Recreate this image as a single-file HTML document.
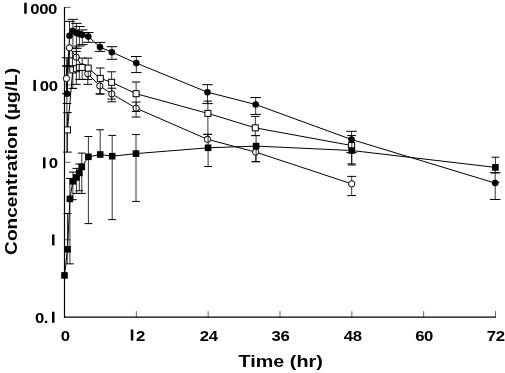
<!DOCTYPE html>
<html><head><meta charset="utf-8"><title>Concentration-time profile</title>
<style>
html,body{margin:0;padding:0;background:#fff;}
svg{display:block;will-change:transform;}
text{font-family:"Liberation Sans",sans-serif;font-weight:bold;font-size:15.5px;fill:#000;}
text.ttl{font-size:16px;}
</style></head><body>
<svg width="505" height="373" viewBox="0 0 505 373">
<rect width="505" height="373" fill="#fff"/>
<line x1="64.50" y1="7.40" x2="70.50" y2="7.40" stroke="#222" stroke-width="0.7" />
<line x1="64.50" y1="84.85" x2="70.50" y2="84.85" stroke="#222" stroke-width="0.7" />
<line x1="64.50" y1="162.30" x2="70.50" y2="162.30" stroke="#222" stroke-width="0.7" />
<line x1="64.50" y1="239.75" x2="70.50" y2="239.75" stroke="#222" stroke-width="0.7" />
<line x1="136.33" y1="317.20" x2="136.33" y2="311.20" stroke="#222" stroke-width="0.7" />
<line x1="208.17" y1="317.20" x2="208.17" y2="311.20" stroke="#222" stroke-width="0.7" />
<line x1="280.00" y1="317.20" x2="280.00" y2="311.20" stroke="#222" stroke-width="0.7" />
<line x1="351.83" y1="317.20" x2="351.83" y2="311.20" stroke="#222" stroke-width="0.7" />
<line x1="423.67" y1="317.20" x2="423.67" y2="311.20" stroke="#222" stroke-width="0.7" />
<line x1="495.50" y1="317.20" x2="495.50" y2="311.20" stroke="#222" stroke-width="0.7" />
<line x1="64.50" y1="6.90" x2="64.50" y2="317.80" stroke="#000" stroke-width="1.2" />
<line x1="63.90" y1="317.20" x2="495.80" y2="317.20" stroke="#000" stroke-width="1.2" />
<polyline points="67.10,93.70 69.50,35.70 72.90,30.80 76.40,33.00 79.40,34.00 82.30,34.80 88.30,36.60 100.00,47.10 111.90,52.20 136.30,63.10 207.50,92.20 255.70,104.50 351.55,139.50 495.20,183.10" fill="none" stroke="#000" stroke-width="1"/>
<line x1="67.10" y1="93.70" x2="67.10" y2="57.80" stroke="#000" stroke-width="0.8" />
<line x1="61.85" y1="57.80" x2="72.35" y2="57.80" stroke="#000" stroke-width="1" />
<line x1="69.50" y1="35.70" x2="69.50" y2="21.40" stroke="#000" stroke-width="0.8" />
<line x1="64.25" y1="21.40" x2="74.75" y2="21.40" stroke="#000" stroke-width="1" />
<line x1="72.90" y1="30.80" x2="72.90" y2="19.35" stroke="#000" stroke-width="0.8" />
<line x1="67.65" y1="19.35" x2="78.15" y2="19.35" stroke="#000" stroke-width="1" />
<line x1="72.90" y1="30.80" x2="72.90" y2="48.30" stroke="#000" stroke-width="0.8" />
<line x1="67.65" y1="48.30" x2="78.15" y2="48.30" stroke="#000" stroke-width="1" />
<line x1="76.40" y1="33.00" x2="76.40" y2="23.40" stroke="#000" stroke-width="0.8" />
<line x1="71.15" y1="23.40" x2="81.65" y2="23.40" stroke="#000" stroke-width="1" />
<line x1="76.40" y1="33.00" x2="76.40" y2="48.30" stroke="#000" stroke-width="0.8" />
<line x1="71.15" y1="48.30" x2="81.65" y2="48.30" stroke="#000" stroke-width="1" />
<line x1="79.40" y1="34.00" x2="79.40" y2="26.50" stroke="#000" stroke-width="0.8" />
<line x1="74.15" y1="26.50" x2="84.65" y2="26.50" stroke="#000" stroke-width="1" />
<line x1="79.40" y1="34.00" x2="79.40" y2="46.00" stroke="#000" stroke-width="0.8" />
<line x1="74.15" y1="46.00" x2="84.65" y2="46.00" stroke="#000" stroke-width="1" />
<line x1="82.30" y1="34.80" x2="82.30" y2="29.90" stroke="#000" stroke-width="0.8" />
<line x1="77.05" y1="29.90" x2="87.55" y2="29.90" stroke="#000" stroke-width="1" />
<line x1="82.30" y1="34.80" x2="82.30" y2="44.60" stroke="#000" stroke-width="0.8" />
<line x1="77.05" y1="44.60" x2="87.55" y2="44.60" stroke="#000" stroke-width="1" />
<line x1="88.30" y1="36.60" x2="88.30" y2="32.50" stroke="#000" stroke-width="0.8" />
<line x1="83.05" y1="32.50" x2="93.55" y2="32.50" stroke="#000" stroke-width="1" />
<line x1="88.30" y1="36.60" x2="88.30" y2="42.30" stroke="#000" stroke-width="0.8" />
<line x1="83.05" y1="42.30" x2="93.55" y2="42.30" stroke="#000" stroke-width="1" />
<line x1="100.00" y1="47.10" x2="100.00" y2="42.40" stroke="#000" stroke-width="0.8" />
<line x1="94.75" y1="42.40" x2="105.25" y2="42.40" stroke="#000" stroke-width="1" />
<line x1="100.00" y1="47.10" x2="100.00" y2="51.40" stroke="#000" stroke-width="0.8" />
<line x1="94.75" y1="51.40" x2="105.25" y2="51.40" stroke="#000" stroke-width="1" />
<line x1="111.90" y1="52.20" x2="111.90" y2="46.70" stroke="#000" stroke-width="0.8" />
<line x1="106.65" y1="46.70" x2="117.15" y2="46.70" stroke="#000" stroke-width="1" />
<line x1="111.90" y1="52.20" x2="111.90" y2="59.30" stroke="#000" stroke-width="0.8" />
<line x1="106.65" y1="59.30" x2="117.15" y2="59.30" stroke="#000" stroke-width="1" />
<line x1="136.30" y1="63.10" x2="136.30" y2="56.50" stroke="#000" stroke-width="0.8" />
<line x1="131.05" y1="56.50" x2="141.55" y2="56.50" stroke="#000" stroke-width="1" />
<line x1="136.30" y1="63.10" x2="136.30" y2="72.60" stroke="#000" stroke-width="0.8" />
<line x1="131.05" y1="72.60" x2="141.55" y2="72.60" stroke="#000" stroke-width="1" />
<line x1="207.50" y1="92.20" x2="207.50" y2="84.70" stroke="#000" stroke-width="0.8" />
<line x1="202.25" y1="84.70" x2="212.75" y2="84.70" stroke="#000" stroke-width="1" />
<line x1="207.50" y1="92.20" x2="207.50" y2="103.60" stroke="#000" stroke-width="0.8" />
<line x1="202.25" y1="103.60" x2="212.75" y2="103.60" stroke="#000" stroke-width="1" />
<line x1="255.70" y1="104.50" x2="255.70" y2="97.50" stroke="#000" stroke-width="0.8" />
<line x1="250.45" y1="97.50" x2="260.95" y2="97.50" stroke="#000" stroke-width="1" />
<line x1="255.70" y1="104.50" x2="255.70" y2="114.40" stroke="#000" stroke-width="0.8" />
<line x1="250.45" y1="114.40" x2="260.95" y2="114.40" stroke="#000" stroke-width="1" />
<line x1="351.55" y1="139.50" x2="351.55" y2="131.30" stroke="#000" stroke-width="0.8" />
<line x1="346.30" y1="131.30" x2="356.80" y2="131.30" stroke="#000" stroke-width="1" />
<line x1="351.55" y1="139.50" x2="351.55" y2="152.60" stroke="#000" stroke-width="0.8" />
<line x1="346.30" y1="152.60" x2="356.80" y2="152.60" stroke="#000" stroke-width="1" />
<line x1="495.20" y1="183.10" x2="495.20" y2="172.80" stroke="#000" stroke-width="0.8" />
<line x1="489.95" y1="172.80" x2="500.45" y2="172.80" stroke="#000" stroke-width="1" />
<line x1="495.20" y1="183.10" x2="495.20" y2="199.50" stroke="#000" stroke-width="0.8" />
<line x1="489.95" y1="199.50" x2="500.45" y2="199.50" stroke="#000" stroke-width="1" />
<line x1="62.00" y1="66.00" x2="73.30" y2="66.00" stroke="#000" stroke-width="0.8" />
<line x1="62.85" y1="103.50" x2="71.30" y2="103.50" stroke="#000" stroke-width="1" />
<line x1="66.90" y1="57.80" x2="66.90" y2="152.10" stroke="#000" stroke-width="0.8" />
<line x1="71.30" y1="88.40" x2="76.90" y2="88.40" stroke="#000" stroke-width="0.7" />
<circle cx="67.10" cy="93.70" r="3.3" fill="#000"/>
<circle cx="69.50" cy="35.70" r="3.3" fill="#000"/>
<circle cx="72.90" cy="30.80" r="3.3" fill="#000"/>
<circle cx="76.40" cy="33.00" r="3.3" fill="#000"/>
<circle cx="79.40" cy="34.00" r="3.3" fill="#000"/>
<circle cx="82.30" cy="34.80" r="3.3" fill="#000"/>
<circle cx="88.30" cy="36.60" r="3.3" fill="#000"/>
<circle cx="100.00" cy="47.10" r="3.3" fill="#000"/>
<circle cx="111.90" cy="52.20" r="3.3" fill="#000"/>
<circle cx="136.30" cy="63.10" r="3.3" fill="#000"/>
<circle cx="207.50" cy="92.20" r="3.3" fill="#000"/>
<circle cx="255.70" cy="104.50" r="3.3" fill="#000"/>
<circle cx="351.55" cy="139.50" r="3.3" fill="#000"/>
<circle cx="495.20" cy="183.10" r="3.3" fill="#000"/>
<polyline points="66.45,78.50 69.40,47.80 76.30,57.20 82.20,67.00 87.80,73.70 99.80,85.90 111.80,93.90 136.10,108.20 207.50,139.30 255.70,152.10 351.70,183.85" fill="none" stroke="#000" stroke-width="1"/>
<line x1="66.45" y1="78.50" x2="66.45" y2="66.00" stroke="#000" stroke-width="0.8" />
<line x1="62.05" y1="66.00" x2="70.85" y2="66.00" stroke="#000" stroke-width="1" />
<line x1="66.45" y1="78.50" x2="66.45" y2="93.70" stroke="#000" stroke-width="0.8" />
<line x1="62.05" y1="93.70" x2="70.85" y2="93.70" stroke="#000" stroke-width="1" />
<line x1="69.40" y1="47.80" x2="69.40" y2="66.00" stroke="#000" stroke-width="0.8" />
<line x1="65.00" y1="66.00" x2="73.80" y2="66.00" stroke="#000" stroke-width="1" />
<line x1="87.80" y1="73.70" x2="87.80" y2="84.35" stroke="#000" stroke-width="0.8" />
<line x1="83.40" y1="84.35" x2="92.20" y2="84.35" stroke="#000" stroke-width="1" />
<line x1="99.80" y1="85.90" x2="99.80" y2="94.00" stroke="#000" stroke-width="0.8" />
<line x1="95.40" y1="94.00" x2="104.20" y2="94.00" stroke="#000" stroke-width="1" />
<line x1="111.80" y1="93.90" x2="111.80" y2="88.20" stroke="#000" stroke-width="0.8" />
<line x1="107.40" y1="88.20" x2="116.20" y2="88.20" stroke="#000" stroke-width="1" />
<line x1="111.80" y1="93.90" x2="111.80" y2="101.75" stroke="#000" stroke-width="0.8" />
<line x1="107.40" y1="101.75" x2="116.20" y2="101.75" stroke="#000" stroke-width="1" />
<line x1="136.10" y1="108.20" x2="136.10" y2="102.10" stroke="#000" stroke-width="0.8" />
<line x1="131.70" y1="102.10" x2="140.50" y2="102.10" stroke="#000" stroke-width="1" />
<line x1="136.10" y1="108.20" x2="136.10" y2="117.00" stroke="#000" stroke-width="0.8" />
<line x1="131.70" y1="117.00" x2="140.50" y2="117.00" stroke="#000" stroke-width="1" />
<line x1="207.50" y1="139.30" x2="207.50" y2="134.40" stroke="#000" stroke-width="0.8" />
<line x1="203.10" y1="134.40" x2="211.90" y2="134.40" stroke="#000" stroke-width="1" />
<line x1="255.70" y1="152.10" x2="255.70" y2="161.70" stroke="#000" stroke-width="0.8" />
<line x1="251.30" y1="161.70" x2="260.10" y2="161.70" stroke="#000" stroke-width="1" />
<line x1="351.70" y1="183.85" x2="351.70" y2="176.40" stroke="#000" stroke-width="0.8" />
<line x1="347.30" y1="176.40" x2="356.10" y2="176.40" stroke="#000" stroke-width="1" />
<line x1="351.70" y1="183.85" x2="351.70" y2="195.60" stroke="#000" stroke-width="0.8" />
<line x1="347.30" y1="195.60" x2="356.10" y2="195.60" stroke="#000" stroke-width="1" />
<line x1="74.00" y1="47.10" x2="79.50" y2="47.10" stroke="#000" stroke-width="0.5" />
<line x1="76.30" y1="47.10" x2="76.30" y2="57.00" stroke="#000" stroke-width="0.8" />
<circle cx="66.45" cy="78.50" r="3.15" fill="#fff" stroke="#000" stroke-width="1"/>
<circle cx="69.40" cy="47.80" r="3.15" fill="#fff" stroke="#000" stroke-width="1"/>
<circle cx="76.30" cy="57.20" r="3.15" fill="#fff" stroke="#000" stroke-width="1"/>
<circle cx="82.20" cy="67.00" r="3.15" fill="#fff" stroke="#000" stroke-width="1"/>
<circle cx="87.80" cy="73.70" r="3.15" fill="#fff" stroke="#000" stroke-width="1"/>
<circle cx="99.80" cy="85.90" r="3.15" fill="#fff" stroke="#000" stroke-width="1"/>
<circle cx="111.80" cy="93.90" r="3.15" fill="#fff" stroke="#000" stroke-width="1"/>
<circle cx="136.10" cy="108.20" r="3.15" fill="#fff" stroke="#000" stroke-width="1"/>
<circle cx="207.50" cy="139.30" r="3.15" fill="#fff" stroke="#000" stroke-width="1"/>
<circle cx="255.70" cy="152.10" r="3.15" fill="#fff" stroke="#000" stroke-width="1"/>
<circle cx="351.70" cy="183.85" r="3.15" fill="#fff" stroke="#000" stroke-width="1"/>
<polyline points="67.50,129.90 72.80,69.90 76.40,68.70 79.30,67.40 82.20,67.40 88.20,68.10 100.30,78.40 111.60,82.30 136.10,93.70 207.90,113.40 255.30,127.85 351.60,145.50" fill="none" stroke="#000" stroke-width="1"/>
<line x1="67.50" y1="129.90" x2="67.50" y2="112.60" stroke="#000" stroke-width="0.8" />
<line x1="63.25" y1="112.60" x2="71.75" y2="112.60" stroke="#000" stroke-width="1" />
<line x1="67.50" y1="129.90" x2="67.50" y2="152.10" stroke="#000" stroke-width="0.8" />
<line x1="63.25" y1="152.10" x2="71.75" y2="152.10" stroke="#000" stroke-width="1" />
<line x1="72.80" y1="69.90" x2="72.80" y2="88.40" stroke="#000" stroke-width="0.8" />
<line x1="68.55" y1="88.40" x2="77.05" y2="88.40" stroke="#000" stroke-width="1" />
<line x1="76.40" y1="68.70" x2="76.40" y2="51.40" stroke="#000" stroke-width="0.8" />
<line x1="72.15" y1="51.40" x2="80.65" y2="51.40" stroke="#000" stroke-width="1" />
<line x1="76.40" y1="68.70" x2="76.40" y2="84.35" stroke="#000" stroke-width="0.8" />
<line x1="72.15" y1="84.35" x2="80.65" y2="84.35" stroke="#000" stroke-width="1" />
<line x1="79.30" y1="67.40" x2="79.30" y2="79.40" stroke="#000" stroke-width="0.8" />
<line x1="75.05" y1="79.40" x2="83.55" y2="79.40" stroke="#000" stroke-width="1" />
<line x1="82.20" y1="67.40" x2="82.20" y2="58.10" stroke="#000" stroke-width="0.8" />
<line x1="77.95" y1="58.10" x2="86.45" y2="58.10" stroke="#000" stroke-width="1" />
<line x1="82.20" y1="67.40" x2="82.20" y2="79.40" stroke="#000" stroke-width="0.8" />
<line x1="77.95" y1="79.40" x2="86.45" y2="79.40" stroke="#000" stroke-width="1" />
<line x1="88.20" y1="68.10" x2="88.20" y2="58.10" stroke="#000" stroke-width="0.8" />
<line x1="83.95" y1="58.10" x2="92.45" y2="58.10" stroke="#000" stroke-width="1" />
<line x1="88.20" y1="68.10" x2="88.20" y2="79.40" stroke="#000" stroke-width="0.8" />
<line x1="83.95" y1="79.40" x2="92.45" y2="79.40" stroke="#000" stroke-width="1" />
<line x1="100.30" y1="78.40" x2="100.30" y2="68.00" stroke="#000" stroke-width="0.8" />
<line x1="96.05" y1="68.00" x2="104.55" y2="68.00" stroke="#000" stroke-width="1" />
<line x1="100.30" y1="78.40" x2="100.30" y2="94.00" stroke="#000" stroke-width="0.8" />
<line x1="96.05" y1="94.00" x2="104.55" y2="94.00" stroke="#000" stroke-width="1" />
<line x1="111.60" y1="82.30" x2="111.60" y2="71.80" stroke="#000" stroke-width="0.8" />
<line x1="107.35" y1="71.80" x2="115.85" y2="71.80" stroke="#000" stroke-width="1" />
<line x1="111.60" y1="82.30" x2="111.60" y2="99.10" stroke="#000" stroke-width="0.8" />
<line x1="107.35" y1="99.10" x2="115.85" y2="99.10" stroke="#000" stroke-width="1" />
<line x1="136.10" y1="93.70" x2="136.10" y2="82.00" stroke="#000" stroke-width="0.8" />
<line x1="131.85" y1="82.00" x2="140.35" y2="82.00" stroke="#000" stroke-width="1" />
<line x1="136.10" y1="93.70" x2="136.10" y2="111.50" stroke="#000" stroke-width="0.8" />
<line x1="131.85" y1="111.50" x2="140.35" y2="111.50" stroke="#000" stroke-width="1" />
<line x1="207.90" y1="113.40" x2="207.90" y2="101.10" stroke="#000" stroke-width="0.8" />
<line x1="203.65" y1="101.10" x2="212.15" y2="101.10" stroke="#000" stroke-width="1" />
<line x1="207.90" y1="113.40" x2="207.90" y2="134.40" stroke="#000" stroke-width="0.8" />
<line x1="203.65" y1="134.40" x2="212.15" y2="134.40" stroke="#000" stroke-width="1" />
<line x1="255.30" y1="127.85" x2="255.30" y2="116.40" stroke="#000" stroke-width="0.8" />
<line x1="251.05" y1="116.40" x2="259.55" y2="116.40" stroke="#000" stroke-width="1" />
<line x1="255.30" y1="127.85" x2="255.30" y2="135.60" stroke="#000" stroke-width="0.8" />
<line x1="251.05" y1="135.60" x2="259.55" y2="135.60" stroke="#000" stroke-width="1" />
<line x1="351.60" y1="145.50" x2="351.60" y2="135.50" stroke="#000" stroke-width="0.8" />
<line x1="347.35" y1="135.50" x2="355.85" y2="135.50" stroke="#000" stroke-width="1" />
<line x1="351.60" y1="145.50" x2="351.60" y2="163.90" stroke="#000" stroke-width="0.8" />
<line x1="347.35" y1="163.90" x2="355.85" y2="163.90" stroke="#000" stroke-width="1" />
<line x1="72.40" y1="51.30" x2="72.40" y2="66.50" stroke="#000" stroke-width="0.9" />
<rect x="64.50" y="126.90" width="6.0" height="6.0" fill="#fff" stroke="#000" stroke-width="1"/>
<rect x="69.80" y="66.90" width="6.0" height="6.0" fill="#fff" stroke="#000" stroke-width="1"/>
<rect x="73.40" y="65.70" width="6.0" height="6.0" fill="#fff" stroke="#000" stroke-width="1"/>
<rect x="76.30" y="64.40" width="6.0" height="6.0" fill="#fff" stroke="#000" stroke-width="1"/>
<rect x="79.20" y="64.40" width="6.0" height="6.0" fill="#fff" stroke="#000" stroke-width="1"/>
<rect x="85.20" y="65.10" width="6.0" height="6.0" fill="#fff" stroke="#000" stroke-width="1"/>
<rect x="97.30" y="75.40" width="6.0" height="6.0" fill="#fff" stroke="#000" stroke-width="1"/>
<rect x="108.60" y="79.30" width="6.0" height="6.0" fill="#fff" stroke="#000" stroke-width="1"/>
<rect x="133.10" y="90.70" width="6.0" height="6.0" fill="#fff" stroke="#000" stroke-width="1"/>
<rect x="204.90" y="110.40" width="6.0" height="6.0" fill="#fff" stroke="#000" stroke-width="1"/>
<rect x="252.30" y="124.85" width="6.0" height="6.0" fill="#fff" stroke="#000" stroke-width="1"/>
<rect x="348.60" y="142.50" width="6.0" height="6.0" fill="#fff" stroke="#000" stroke-width="1"/>
<line x1="497.50" y1="182.50" x2="499.60" y2="182.30" stroke="#000" stroke-width="0.9" />
<polyline points="64.50,275.40 67.50,249.30 69.90,198.90 72.90,181.30 76.40,177.40 79.30,172.90 81.80,166.90 88.40,156.80 100.20,154.50 112.20,156.20 136.00,153.60 208.10,147.80 256.10,146.10 351.80,150.50 495.40,167.40" fill="none" stroke="#000" stroke-width="1"/>
<line x1="67.50" y1="249.30" x2="67.50" y2="213.50" stroke="#000" stroke-width="0.8" />
<line x1="63.60" y1="213.50" x2="71.40" y2="213.50" stroke="#000" stroke-width="1" />
<line x1="69.90" y1="198.90" x2="69.90" y2="178.40" stroke="#000" stroke-width="0.8" />
<line x1="66.00" y1="178.40" x2="73.80" y2="178.40" stroke="#000" stroke-width="1" />
<line x1="69.90" y1="198.90" x2="69.90" y2="263.85" stroke="#000" stroke-width="0.8" />
<line x1="66.00" y1="263.85" x2="73.80" y2="263.85" stroke="#000" stroke-width="1" />
<line x1="72.90" y1="181.30" x2="72.90" y2="172.10" stroke="#000" stroke-width="0.8" />
<line x1="69.00" y1="172.10" x2="76.80" y2="172.10" stroke="#000" stroke-width="1" />
<line x1="72.90" y1="181.30" x2="72.90" y2="199.70" stroke="#000" stroke-width="0.8" />
<line x1="69.00" y1="199.70" x2="76.80" y2="199.70" stroke="#000" stroke-width="1" />
<line x1="76.40" y1="177.40" x2="76.40" y2="168.40" stroke="#000" stroke-width="0.8" />
<line x1="72.50" y1="168.40" x2="80.30" y2="168.40" stroke="#000" stroke-width="1" />
<line x1="76.40" y1="177.40" x2="76.40" y2="193.40" stroke="#000" stroke-width="0.8" />
<line x1="72.50" y1="193.40" x2="80.30" y2="193.40" stroke="#000" stroke-width="1" />
<line x1="79.30" y1="172.90" x2="79.30" y2="164.00" stroke="#000" stroke-width="0.8" />
<line x1="75.40" y1="164.00" x2="83.20" y2="164.00" stroke="#000" stroke-width="1" />
<line x1="79.30" y1="172.90" x2="79.30" y2="190.75" stroke="#000" stroke-width="0.8" />
<line x1="75.40" y1="190.75" x2="83.20" y2="190.75" stroke="#000" stroke-width="1" />
<line x1="81.80" y1="166.90" x2="81.80" y2="153.10" stroke="#000" stroke-width="0.8" />
<line x1="77.90" y1="153.10" x2="85.70" y2="153.10" stroke="#000" stroke-width="1" />
<line x1="81.80" y1="166.90" x2="81.80" y2="193.40" stroke="#000" stroke-width="0.8" />
<line x1="77.90" y1="193.40" x2="85.70" y2="193.40" stroke="#000" stroke-width="1" />
<line x1="88.40" y1="156.80" x2="88.40" y2="136.50" stroke="#000" stroke-width="0.8" />
<line x1="84.50" y1="136.50" x2="92.30" y2="136.50" stroke="#000" stroke-width="1" />
<line x1="88.40" y1="156.80" x2="88.40" y2="223.60" stroke="#000" stroke-width="0.8" />
<line x1="84.50" y1="223.60" x2="92.30" y2="223.60" stroke="#000" stroke-width="1" />
<line x1="100.20" y1="154.50" x2="100.20" y2="129.80" stroke="#000" stroke-width="0.8" />
<line x1="96.30" y1="129.80" x2="104.10" y2="129.80" stroke="#000" stroke-width="1" />
<line x1="112.20" y1="156.20" x2="112.20" y2="135.40" stroke="#000" stroke-width="0.8" />
<line x1="108.30" y1="135.40" x2="116.10" y2="135.40" stroke="#000" stroke-width="1" />
<line x1="112.20" y1="156.20" x2="112.20" y2="219.60" stroke="#000" stroke-width="0.8" />
<line x1="108.30" y1="219.60" x2="116.10" y2="219.60" stroke="#000" stroke-width="1" />
<line x1="136.00" y1="153.60" x2="136.00" y2="134.60" stroke="#000" stroke-width="0.8" />
<line x1="132.10" y1="134.60" x2="139.90" y2="134.60" stroke="#000" stroke-width="1" />
<line x1="136.00" y1="153.60" x2="136.00" y2="201.40" stroke="#000" stroke-width="0.8" />
<line x1="132.10" y1="201.40" x2="139.90" y2="201.40" stroke="#000" stroke-width="1" />
<line x1="208.10" y1="147.80" x2="208.10" y2="134.40" stroke="#000" stroke-width="0.8" />
<line x1="204.20" y1="134.40" x2="212.00" y2="134.40" stroke="#000" stroke-width="1" />
<line x1="208.10" y1="147.80" x2="208.10" y2="166.50" stroke="#000" stroke-width="0.8" />
<line x1="204.20" y1="166.50" x2="212.00" y2="166.50" stroke="#000" stroke-width="1" />
<line x1="256.10" y1="146.10" x2="256.10" y2="135.60" stroke="#000" stroke-width="0.8" />
<line x1="252.20" y1="135.60" x2="260.00" y2="135.60" stroke="#000" stroke-width="1" />
<line x1="256.10" y1="146.10" x2="256.10" y2="161.70" stroke="#000" stroke-width="0.8" />
<line x1="252.20" y1="161.70" x2="260.00" y2="161.70" stroke="#000" stroke-width="1" />
<line x1="351.80" y1="150.50" x2="351.80" y2="135.50" stroke="#000" stroke-width="0.8" />
<line x1="347.90" y1="135.50" x2="355.70" y2="135.50" stroke="#000" stroke-width="1" />
<line x1="351.80" y1="150.50" x2="351.80" y2="165.00" stroke="#000" stroke-width="0.8" />
<line x1="347.90" y1="165.00" x2="355.70" y2="165.00" stroke="#000" stroke-width="1" />
<line x1="495.40" y1="167.40" x2="495.40" y2="157.20" stroke="#000" stroke-width="0.8" />
<line x1="491.50" y1="157.20" x2="499.30" y2="157.20" stroke="#000" stroke-width="1" />
<line x1="495.40" y1="167.40" x2="495.40" y2="172.80" stroke="#000" stroke-width="0.8" />
<line x1="491.50" y1="172.80" x2="499.30" y2="172.80" stroke="#000" stroke-width="1" />
<line x1="67.20" y1="249.30" x2="67.20" y2="263.85" stroke="#000" stroke-width="0.8" />
<rect x="61.20" y="272.10" width="6.6" height="6.6" fill="#000"/>
<rect x="64.20" y="246.00" width="6.6" height="6.6" fill="#000"/>
<rect x="66.60" y="195.60" width="6.6" height="6.6" fill="#000"/>
<rect x="69.60" y="178.00" width="6.6" height="6.6" fill="#000"/>
<rect x="73.10" y="174.10" width="6.6" height="6.6" fill="#000"/>
<rect x="76.00" y="169.60" width="6.6" height="6.6" fill="#000"/>
<rect x="78.50" y="163.60" width="6.6" height="6.6" fill="#000"/>
<rect x="85.10" y="153.50" width="6.6" height="6.6" fill="#000"/>
<rect x="96.90" y="151.20" width="6.6" height="6.6" fill="#000"/>
<rect x="108.90" y="152.90" width="6.6" height="6.6" fill="#000"/>
<rect x="132.70" y="150.30" width="6.6" height="6.6" fill="#000"/>
<rect x="204.80" y="144.50" width="6.6" height="6.6" fill="#000"/>
<rect x="252.80" y="142.80" width="6.6" height="6.6" fill="#000"/>
<rect x="348.50" y="147.20" width="6.6" height="6.6" fill="#000"/>
<rect x="492.10" y="164.10" width="6.6" height="6.6" fill="#000"/>
<text x="21.20" y="13.75" fill="none" style="fill:none">1</text>
<rect x="24.20" y="2.75" width="2.5" height="11.0" fill="#000"/>
<text transform="translate(30.33,13.75) scale(1.08,1)" letter-spacing="-0.380">000</text>
<text x="30.40" y="90.95" fill="none" style="fill:none">1</text>
<rect x="33.40" y="79.95" width="2.5" height="11.0" fill="#000"/>
<text transform="translate(39.78,90.95) scale(1.08,1)" letter-spacing="-0.380">00</text>
<text x="40.00" y="168.35" fill="none" style="fill:none">1</text>
<rect x="43.00" y="157.35" width="2.5" height="11.0" fill="#000"/>
<text transform="translate(48.78,168.35) scale(1.08,1)" letter-spacing="-0.380">0</text>
<text x="49.00" y="245.45" fill="none" style="fill:none">1</text>
<rect x="52.00" y="234.45" width="2.5" height="11.0" fill="#000"/>
<text transform="translate(34.88,322.75) scale(1.08,1)" letter-spacing="-0.380">0.</text>
<text x="49.00" y="322.75" fill="none" style="fill:none">1</text>
<rect x="52.00" y="311.75" width="2.5" height="11.0" fill="#000"/>
<text transform="translate(60.83,340.50) scale(1.08,1)" letter-spacing="-0.380">0</text>
<text x="127.80" y="340.50" fill="none" style="fill:none">1</text>
<rect x="130.80" y="329.50" width="2.5" height="11.0" fill="#000"/>
<text transform="translate(136.11,340.50) scale(1.08,1)" letter-spacing="-0.380">2</text>
<text transform="translate(199.81,340.50) scale(1.08,1)" letter-spacing="-0.380">24</text>
<text transform="translate(271.51,340.50) scale(1.08,1)" letter-spacing="-0.380">36</text>
<text transform="translate(343.85,340.50) scale(1.08,1)" letter-spacing="-0.380">48</text>
<text transform="translate(415.18,340.50) scale(1.08,1)" letter-spacing="-0.380">60</text>
<text transform="translate(486.78,340.50) scale(1.08,1)" letter-spacing="-0.380">72</text>
<text class="ttl" transform="translate(238.6,367.3) scale(1.235,1)">Time (hr)</text>
<text class="ttl" transform="translate(16.5,254.9) rotate(-90) scale(1.193,1)">Concentration (µg/L)</text>
</svg>
</body></html>
